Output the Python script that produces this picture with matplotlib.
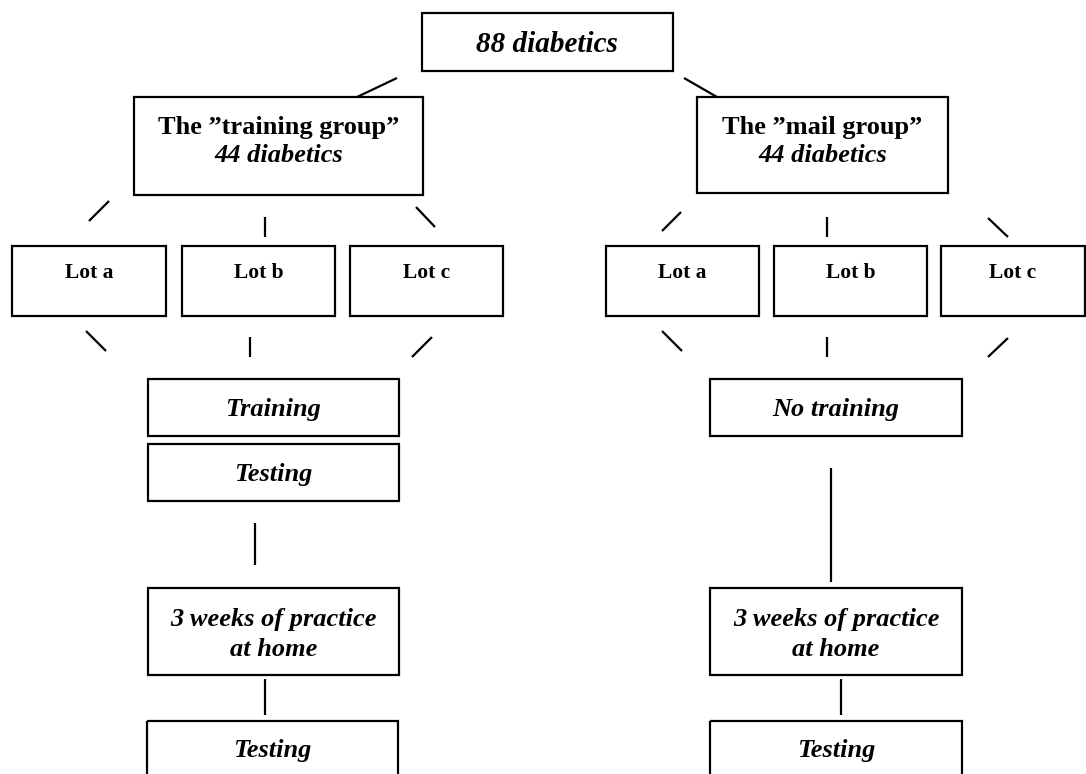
import matplotlib
matplotlib.use("Agg")
import matplotlib.pyplot as plt
from matplotlib.patches import Rectangle

# ---- content ----
top_label = "88 diabetics"
group_titles = ["The \u201dtraining group\u201d", "The \u201dmail group\u201d"]
group_counts = ["44 diabetics", "44 diabetics"]
lot_labels = ["Lot a", "Lot b", "Lot c"]
left_steps = ["Training", "Testing", "3 weeks of practice\nat home", "Testing"]
right_steps = ["No training", "3 weeks of practice\nat home", "Testing"]

# ---- layout (pixel coordinates: x0, y0, x1, y1) ----
W, H = 1086, 774
fig = plt.figure(figsize=(W / 100, H / 100), dpi=100)
ax = fig.add_axes([0, 0, 1, 1])
ax.set_xlim(0, W)
ax.set_ylim(H, 0)
ax.axis("off")

SERIF = ["Liberation Serif", "DejaVu Serif"]
LW = 1.6
DY = 2.5


def box(x0, y0, x1, y1):
    ax.add_patch(Rectangle((x0, y0), x1 - x0, y1 - y0, fill=False,
                           edgecolor="black", linewidth=LW, clip_on=False))


def line(x0, y0, x1, y1):
    ax.plot([x0, x1], [y0, y1], color="black", linewidth=LW,
            solid_capstyle="butt", clip_on=False)


def text(x, y, s, size, style="italic", weight="bold", ls=1.38):
    ax.text(x, y + DY, s, ha="center", va="center", fontsize=size,
            fontstyle=style, fontweight=weight, family=SERIF,
            linespacing=ls)


# top box
box(422, 13, 673, 71)
text(547, 42, top_label, 21)
line(397, 78, 357, 97)
line(684, 78, 717, 97)

# group boxes
group_boxes = [(134, 97, 423, 195), (697, 97, 948, 193)]
for (x0, y0, x1, y1), t, c in zip(group_boxes, group_titles, group_counts):
    box(x0, y0, x1, y1)
    cx = (x0 + x1) / 2
    text(cx, 125, t, 19, style="normal")
    text(cx, 153, c, 19)

# lot boxes
lot_boxes = [
    [(12, 246, 166, 316), (182, 246, 335, 316), (350, 246, 503, 316)],
    [(606, 246, 759, 316), (774, 246, 927, 316), (941, 246, 1085, 316)],
]
for side in lot_boxes:
    for (x0, y0, x1, y1), lab in zip(side, lot_labels):
        box(x0, y0, x1, y1)
        text((x0 + x1) / 2, 271, lab, 15.5, style="normal")

# connectors above lots
line(109, 201, 89, 221)
line(265, 217, 265, 237)
line(416, 207, 435, 227)
line(681, 212, 662, 231)
line(827, 217, 827, 237)
line(988, 218, 1008, 237)

# connectors below lots
line(86, 331, 106, 351)
line(250, 337, 250, 357)
line(432, 337, 412, 357)
line(662, 331, 682, 351)
line(827, 337, 827, 357)
line(1008, 338, 988, 357)

# left column
left_boxes = [(148, 379, 399, 436), (148, 444, 399, 501),
              (148, 588, 399, 675), (147, 721, 398, 780)]
left_text_y = [407, 472, 632, 748]
for (x0, y0, x1, y1), s, ty in zip(left_boxes, left_steps, left_text_y):
    box(x0, y0, x1, y1)
    text((x0 + x1) / 2, ty, s, 19)
line(255, 523, 255, 565)
line(265, 679, 265, 715)

# right column
right_boxes = [(710, 379, 962, 436), (710, 588, 962, 675), (710, 721, 962, 780)]
right_text_y = [407, 632, 748]
for (x0, y0, x1, y1), s, ty in zip(right_boxes, right_steps, right_text_y):
    box(x0, y0, x1, y1)
    text((x0 + x1) / 2, ty, s, 19)
line(831, 468, 831, 582)
line(841, 679, 841, 715)

fig.savefig("out.png", dpi=100, facecolor="white")
